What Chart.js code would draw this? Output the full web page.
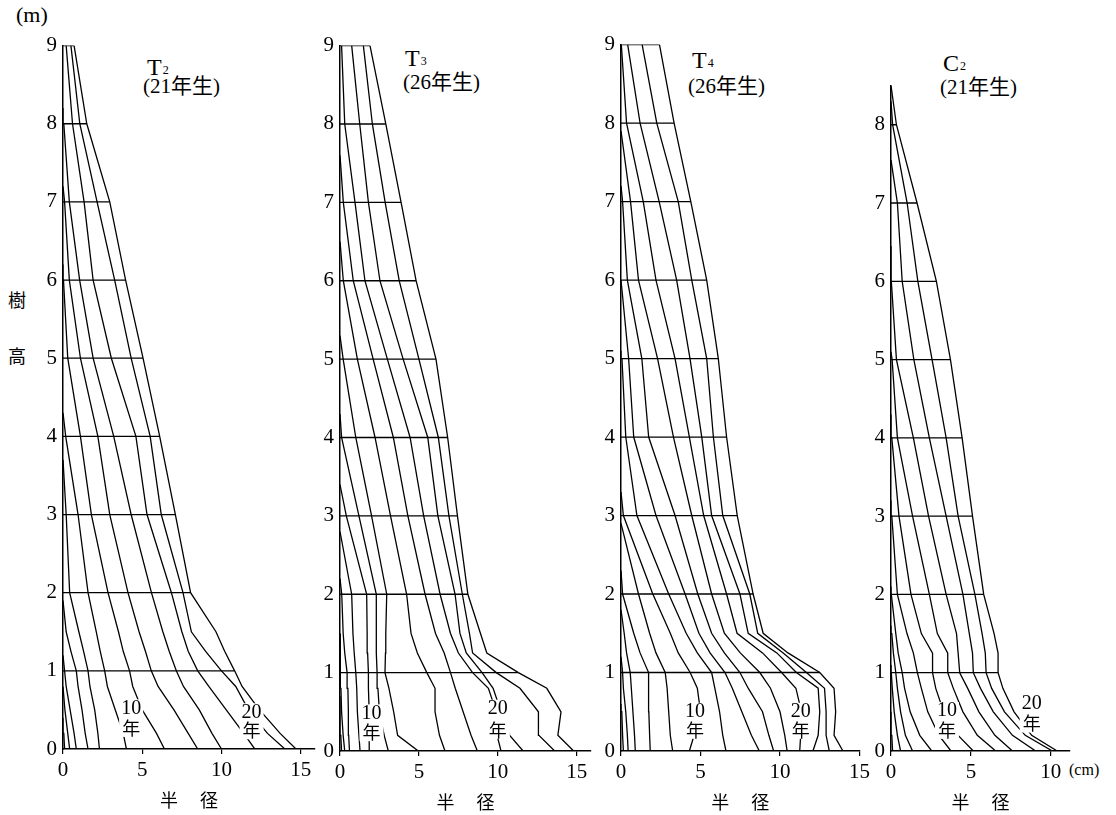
<!DOCTYPE html>
<html lang="ja">
<head>
<meta charset="utf-8">
<title>樹幹解析図</title>
<script src="https://cdn.jsdelivr.net/npm/chart.js@4.4.1/dist/chart.umd.min.js"></script>
<style>
  html, body { margin: 0; padding: 0; background: #fff; }
  body { position: relative; width: 1116px; height: 815px; overflow: hidden; }
  canvas { position: absolute; }
  .lbl { position: absolute; color: #000; white-space: nowrap; }
  .serif { font-family: "Liberation Serif", "DejaVu Serif", serif; }
  .jp { font-family: "Noto Sans CJK JP", sans-serif; }
  .ttl { font-size: 24px; line-height: 24px; }
  .ttl span { font-size: 12px; margin-left: 1px; position: relative; top: -1px; }
  .age { font-size: 21px; line-height: 20px; }
</style>
</head>
<body>
<div class="lbl serif" style="left:16px;top:4px;font-size:22px;line-height:22px;">(m)</div>
<div class="lbl jp" style="left:8px;top:290px;font-size:18px;line-height:18px;">樹</div>
<div class="lbl jp" style="left:8px;top:346px;font-size:18px;line-height:18px;">高</div>

<div class="lbl serif ttl" style="left:147px;top:55px;">T<span>2</span></div>
<div class="lbl serif age" style="left:143px;top:74px;">(21<span class="jp">年生</span>)</div>
<div class="lbl serif ttl" style="left:405px;top:46px;">T<span>3</span></div>
<div class="lbl serif age" style="left:403px;top:70px;">(26<span class="jp">年生</span>)</div>
<div class="lbl serif ttl" style="left:692px;top:48px;">T<span>4</span></div>
<div class="lbl serif age" style="left:688px;top:74px;">(26<span class="jp">年生</span>)</div>
<div class="lbl serif ttl" style="left:943px;top:51px;">C<span>2</span></div>
<div class="lbl serif age" style="left:940px;top:75px;">(21<span class="jp">年生</span>)</div>
<div class="lbl serif" style="left:1069px;top:762px;font-size:16px;line-height:16px;">(cm)</div>

<canvas id="c1"></canvas>
<canvas id="c2"></canvas>
<canvas id="c3"></canvas>
<canvas id="c4"></canvas>

<script>
const SERIF = '"Liberation Serif", "DejaVu Serif", serif';
const CJK = '"Noto Sans CJK JP", sans-serif';

// section heights (m) at which every outline radius is read
const heights = [0, 0.2, 0.5, 0.8, 1, 1.25, 1.5, 2, 3, 4, 5, 6, 7, 8, 9];
const xTicks = [0, 5, 10, 15];
const yTicks = [0, 1, 2, 3, 4, 5, 6, 7, 8, 9];

// radius (cm) of each age outline at the section heights, youngest first
// tops = height (m) where the outline closes on the axis (null: runs past 9 m)
const t2Radii = [
  [0.1, 0.05],
  [0.42, 0.3, 0.12],
  [0.84, 0.7, 0.45, 0.2, 0.1],
  [1.58, 1.4, 1.2, 0.95, 0.84, 0.5, 0.2],
  [2.3, 2.2, 2.0, 1.7, 1.58, 1.3, 1.0, 0.42, 0.2],
  [4.0, 3.8, 3.3, 2.8, 2.63, 2.35, 2.1, 1.58, 0.95, 0.17],
  [6.4, 5.9, 5.0, 4.4, 4.2, 3.8, 3.5, 2.84, 1.79, 1.1, 0.3, 0.03],
  [8.5, 7.9, 7.0, 6.0, 5.57, 5.2, 4.8, 4.1, 2.95, 2.2, 1.1, 0.4, 0.1],
  [10.0, 9.4, 8.6, 7.6, 7.15, 6.7, 6.3, 5.58, 4.3, 3.2, 1.9, 1.05, 0.4, 0.05],
  [12.1, 11.4, 10.3, 9.2, 8.5, 7.9, 7.5, 6.84, 5.3, 4.6, 3.05, 1.9, 1.33, 0.6, 0.2],
  [14.0, 12.9, 11.7, 10.9, 10.0, 9.0, 8.1, 7.57, 6.2, 5.5, 4.3, 3.26, 2.15, 1.06, 0.5],
  [14.7, 13.7, 12.4, 11.3, 10.83, 10.2, 9.65, 8.05, 7.09, 6.1, 5.05, 3.95, 2.95, 1.5, 0.7]
];
const t2Tops = [0.4, 0.8, 1.2, 1.9, 3.7, 4.3, 6.2, 7.2, 8.2, null, null, null];

const t3Radii = [
  [0.1, 0.05],
  [0.3, 0.2, 0.1, 0.06, 0.04],
  [0.6, 0.55, 0.53, 0.5, 0.45, 0.3, 0.2, 0.11],
  [1.27, 1.2, 1.1, 1.06, 1.0, 0.9, 0.82, 0.74],
  [1.9, 1.85, 1.85, 1.8, 1.8, 1.75, 1.72, 1.69, 0.4],
  [3.06, 2.8, 2.5, 2.4, 2.35, 2.3, 2.3, 2.3, 1.2, 0.1],
  [4.96, 3.65, 3.4, 3.1, 2.85, 2.88, 2.9, 2.96, 2.0, 1.0, 0.2],
  [6.65, 6.3, 6.02, 6.02, 5.5, 4.9, 4.5, 4.22, 3.2, 2.22, 1.1, 0.21],
  [8.7, 8.3, 7.8, 7.3, 7.0, 6.6, 6.05, 5.39, 4.3, 3.38, 2.1, 0.84, 0.21],
  [10.2, 9.95, 9.9, 9.4, 8.4, 7.5, 7.0, 6.34, 5.3, 4.44, 3.0, 1.58, 0.95, 0.3, 0.1],
  [11.6, 10.75, 10.2, 9.7, 9.0, 8.0, 7.6, 7.29, 6.2, 5.56, 4.0, 2.53, 1.8, 1.25, 0.74],
  [13.6, 12.6, 12.57, 11.4, 9.9, 8.4, 8.2, 7.75, 6.9, 6.23, 5.0, 3.75, 2.86, 2.05, 1.48],
  [14.8, 13.8, 14.0, 13.1, 11.3, 9.3, 8.9, 8.1, 7.44, 6.82, 6.08, 4.82, 3.87, 2.9, 1.9]
];
const t3Tops = [0.7, 1.5, 2.2, 2.8, 3.4, 4.3, 5.3, 6.5, 7.6, null, null, null, null];

const t4Radii = [
  [0.15, 0.1, 0.05],
  [0.45, 0.4, 0.3, 0.15, 0.1],
  [0.9, 0.85, 0.75, 0.65, 0.58, 0.35, 0.2],
  [1.84, 1.8, 1.75, 1.74, 1.73, 1.2, 0.8, 0.1],
  [3.25, 3.1, 3.0, 2.9, 2.78, 2.2, 1.8, 1.1],
  [4.3, 4.6, 5.0, 4.8, 4.35, 3.6, 3.1, 2.0, 0.15],
  [6.6, 6.4, 6.2, 5.9, 5.7, 4.8, 4.1, 3.0, 1.0, 0.3, 0.06],
  [8.7, 8.2, 7.6, 7.0, 6.54, 5.6, 4.9, 4.03, 2.2, 0.8, 0.48],
  [9.6, 9.3, 8.9, 8.0, 7.48, 6.5, 5.7, 4.83, 3.4, 1.74, 1.31, 0.4, 0.1],
  [10.45, 10.3, 10.0, 9.4, 8.73, 7.5, 6.5, 5.7, 4.45, 3.3, 2.3, 1.1, 0.6],
  [11.24, 11.3, 11.35, 11.0, 10.1, 8.9, 7.3, 6.64, 5.2, 4.3, 3.4, 2.2, 1.4, 0.35, 0.02],
  [12.07, 12.4, 12.5, 12.4, 11.03, 9.8, 8.0, 7.48, 5.7, 5.08, 4.34, 3.5, 2.4, 1.2, 0.42],
  [13.1, 12.9, 12.9, 12.8, 11.66, 10.2, 8.6, 8.1, 6.4, 5.81, 5.39, 4.45, 3.6, 2.25, 1.33],
  [13.96, 13.4, 13.5, 13.4, 12.5, 10.5, 8.94, 8.31, 7.31, 6.64, 6.12, 5.39, 4.39, 3.34, 2.42]
];
const t4Tops = [0.6, 1.2, 1.8, 2.3, 2.9, 3.3, 5.1, 6.0, 7.2, 7.9, null, null, null, null];

const c2Radii = [
  [0.1, 0.05],
  [0.6, 0.4, 0.2, 0.08, 0.02],
  [1.35, 0.9, 0.6, 0.4, 0.3, 0.15, 0.05],
  [2.55, 1.8, 1.2, 0.85, 0.7, 0.45, 0.3, 0.02],
  [3.75, 3.0, 2.3, 1.9, 1.65, 1.4, 1.0, 0.4, 0.05],
  [5.15, 4.2, 3.3, 2.8, 2.6, 2.6, 1.9, 1.25, 0.5, 0.05],
  [6.55, 5.4, 4.5, 3.9, 3.55, 3.55, 2.9, 2.4, 1.35, 0.4, 0.07],
  [7.6, 6.5, 5.5, 4.8, 4.3, 4.2, 4.1, 3.45, 2.35, 1.4, 0.34, 0.02],
  [9.05, 7.6, 6.4, 5.6, 5.15, 5.1, 4.9, 4.5, 3.45, 2.4, 1.43, 0.7, 0.4],
  [10.1, 8.4, 7.1, 6.3, 5.95, 5.9, 5.7, 5.25, 4.2, 3.45, 2.57, 1.68, 1.01, 0.1],
  [10.4, 8.8, 7.7, 7.0, 6.7, 6.7, 6.45, 5.8, 5.1, 4.45, 3.72, 2.84, 1.63, 0.34]
];
const c2Tops = [0.5, 1.1, 1.6, 2.1, 3.2, 4.3, 5.1, 6.45, 7.55, 8.3, 8.5];

// "10年" / "20年" marks: radius, height of the number, height of 年
const t2Marks = [{num: '10', r: 4.3, h: 0.52, hNen: 0.27}, {num: '20', r: 11.9, h: 0.47, hNen: 0.24}];
const t3Marks = [{num: '10', r: 2.0, h: 0.48, hNen: 0.24}, {num: '20', r: 10.0, h: 0.54, hNen: 0.27}];
const t4Marks = [{num: '10', r: 4.66, h: 0.5, hNen: 0.27}, {num: '20', r: 11.3, h: 0.5, hNen: 0.27}];
const c2Marks = [{num: '10', r: 3.5, h: 0.51, hNen: 0.27}, {num: '20', r: 8.8, h: 0.6, hNen: 0.35}];

function yearMarkPlugin(marks) {
  return {
    id: 'yearMarks',
    afterDatasetsDraw(chart) {
      const ctx = chart.ctx;
      const xs = chart.scales.x, ys = chart.scales.y;
      marks.forEach(m => {
        const px = xs.getPixelForValue(m.r);
        const p1 = ys.getPixelForValue(m.h);
        const p2 = ys.getPixelForValue(m.hNen);
        ctx.save();
        ctx.font = '20px ' + SERIF;
        const w = ctx.measureText(m.num).width;
        ctx.fillStyle = '#fff';
        ctx.fillRect(px - w / 2 - 2, p1 - 9, w + 4, p2 - p1 + 18);
        ctx.fillStyle = '#000';
        ctx.textAlign = 'center';
        ctx.textBaseline = 'middle';
        ctx.fillText(m.num, px, p1);
        ctx.font = '18px ' + CJK;
        ctx.fillText('年', px, p2);
        ctx.restore();
      });
    }
  };
}

const lineStyle = {borderColor: '#000', borderWidth: 1.3, pointRadius: 0, showLine: true, fill: false, tension: 0};

function buildDatasets(radii, tops) {
  const sets = [];
  radii.forEach((row, i) => {
    const pts = row.map((r, j) => ({x: r, y: heights[j]}));
    if (tops[i] !== null) pts.push({x: 0, y: tops[i]});
    sets.push(Object.assign({data: pts}, lineStyle));
  });
  // disc sections at whole metres, out to the present bark
  const outer = radii[radii.length - 1];
  yTicks.forEach(h => {
    const j = heights.indexOf(h);
    if (h > 0 && j >= 0 && j < outer.length) {
      sets.push(Object.assign({data: [{x: 0, y: h}, {x: outer[j], y: h}]}, lineStyle));
    }
  });
  return sets;
}

function stemChart(id, box, radii, tops, xMax, yMax, marks) {
  const padT = 14, padR = 14, yW = 45, xH = 62;
  const canvas = document.getElementById(id);
  canvas.width = box.r - box.l + yW + padR;
  canvas.height = box.b - box.t + padT + xH;
  canvas.style.left = (box.l - yW) + 'px';
  canvas.style.top = (box.t - padT) + 'px';

  new Chart(canvas, {
    type: 'scatter',
    data: {datasets: buildDatasets(radii, tops)},
    options: {
      responsive: false,
      animation: false,
      layout: {padding: {top: padT, right: padR, left: 0, bottom: 0}},
      plugins: {legend: {display: false}, tooltip: {enabled: false}},
      scales: {
        x: {
          type: 'linear', min: 0, max: xMax,
          afterBuildTicks: s => { s.ticks = xTicks.filter(v => v <= xMax).map(v => ({value: v})); },
          afterFit: s => { s.height = xH; },
          grid: {display: true, drawOnChartArea: false, drawTicks: true, tickLength: 5, color: '#000', lineWidth: 1.2},
          border: {display: true, color: '#000', width: 1.5},
          ticks: {color: '#000', font: {family: SERIF, size: 21}, padding: 4, maxRotation: 0, autoSkip: false},
          title: {display: true, text: '半　 径', color: '#000', font: {family: CJK, size: 18}, padding: {top: 0, bottom: 0}}
        },
        y: {
          type: 'linear', min: 0, max: yMax,
          afterBuildTicks: s => { s.ticks = yTicks.filter(v => v <= yMax).map(v => ({value: v})); },
          afterFit: s => { s.width = yW; },
          grid: {display: false, drawTicks: false},
          border: {display: true, color: '#000', width: 1.5},
          ticks: {color: '#000', font: {family: SERIF, size: 21}, padding: 6}
        }
      }
    },
    plugins: [yearMarkPlugin(marks)]
  });
}

stemChart('c1', {l: 63, r: 315, t: 41, b: 749}, t2Radii, t2Tops, 15.9, 9, t2Marks);
stemChart('c2', {l: 340, r: 591, t: 41, b: 751}, t3Radii, t3Tops, 15.9, 9, t3Marks);
stemChart('c3', {l: 621, r: 860, t: 40, b: 751}, t4Radii, t4Tops, 15, 9, t4Marks);
stemChart('c4', {l: 891, r: 1070, t: 81, b: 751}, c2Radii, c2Tops, 11.2, 8.5, c2Marks);
</script>
</body>
</html>
